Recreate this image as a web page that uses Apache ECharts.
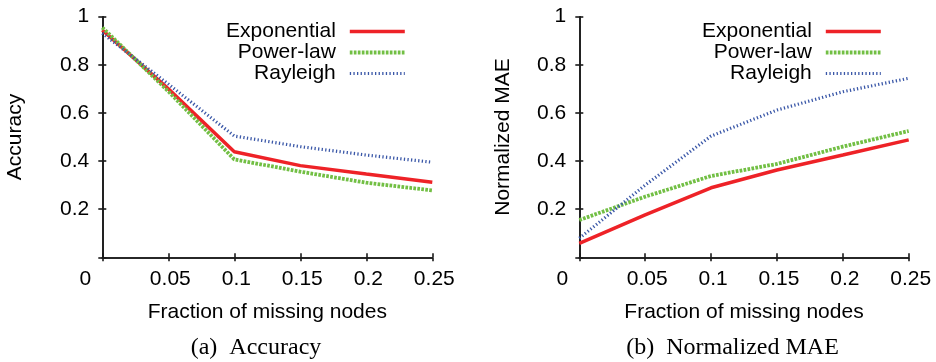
<!DOCTYPE html>
<html>
<head>
<meta charset="utf-8">
<script src="https://cdn.jsdelivr.net/npm/echarts@6/dist/echarts.min.js"></script>
<style>
html,body{margin:0;padding:0;background:#fff;}
#c{width:936px;height:362px;}
</style>
</head>
<body>
<div id="c"></div>
<script>
// ---- data ----
const xValues = [0, 0.05, 0.1, 0.15, 0.2, 0.25];
const seriesNames = ['Exponential', 'Power-law', 'Rayleigh'];
const accExp = [0.945, 0.70, 0.439, 0.381, 0.346, 0.312];
const accPow = [0.955, 0.69, 0.407, 0.356, 0.310, 0.278];
const accRay = [0.931, 0.72, 0.504, 0.460, 0.425, 0.395];
const maeExp = [0.058, 0.176, 0.289, 0.363, 0.425, 0.488];
const maePow = [0.155, 0.252, 0.338, 0.388, 0.460, 0.525];
const maeRay = [0.079, 0.300, 0.504, 0.612, 0.688, 0.744];
const xTicks = [0, 0.05, 0.1, 0.15, 0.2, 0.25];
const yTicks = [0, 0.2, 0.4, 0.6, 0.8, 1];
const yNames = ['Accuracy', 'Normalized MAE'];
const captions = ['(a)\u00a0\u00a0Accuracy', '(b)\u00a0\u00a0Normalized MAE'];
const xName = 'Fraction of missing nodes';

const SANS = '"Liberation Sans", Arial, Helvetica, sans-serif';
const SERIF = '"Liberation Serif", "Times New Roman", serif';
const FS = 21;
const colors = ['#ee2227', '#72bf44', '#3b58a8'];
const lineStyles = [
  {width: 3.5, type: 'solid'},
  {width: 3.8, type: [2.7, 1.3]},
  {width: 3.2, type: [1.3, 2.3]}
];

const grids = [
  {left: 102.3, right: 936 - 432.3, top: 16.7, bottom: 362 - 257.3},
  {left: 579.3, right: 936 - 908.7, top: 16.7, bottom: 362 - 257.3}
];

const axisLineStyle = {color: '#1a1a1a', width: 1.6};
function fmtX(v) {
  if (Math.abs(v) < 1e-9) return '{z|0}';
  return '{n|' + String(+v.toFixed(2)) + '}';
}
function fmtY(v) {
  if (Math.abs(v) < 1e-9) return '';
  return String(+v.toFixed(1));
}
const xMin = xTicks[0], xMax = xTicks[xTicks.length - 1], xInt = xTicks[1] - xTicks[0];
const yMin = yTicks[0], yMax = yTicks[yTicks.length - 1], yInt = yTicks[1] - yTicks[0];

const xAxes = [], yAxes = [];
[0, 1].forEach(g => {
  xAxes.push({
    type: 'value', gridIndex: g, position: 'bottom', min: xMin, max: xMax, interval: xInt,
    name: xName, nameLocation: 'middle', nameGap: 44,
    nameTextStyle: {fontFamily: SANS, fontSize: FS, color: '#000'},
    axisLine: {show: true, lineStyle: axisLineStyle},
    axisTick: {show: true, inside: true, length: 4, lineStyle: axisLineStyle},
    axisLabel: {
      show: true, margin: 11, fontFamily: SANS, fontSize: FS, color: '#000',
      formatter: fmtX,
      rich: {
        z: {fontFamily: SANS, fontSize: FS, color: '#000', padding: [0, 34, 0, 0]},
        n: {fontFamily: SANS, fontSize: FS, color: '#000', padding: [0, 0, 0, 4]}
      }
    },
    splitLine: {show: false}
  });
});
[0, 1].forEach(g => {
  xAxes.push({
    type: 'value', gridIndex: g, position: 'top', min: xMin, max: xMax, interval: xInt,
    axisLine: {show: true, lineStyle: axisLineStyle},
    axisTick: {show: true, inside: true, length: 4, lineStyle: axisLineStyle},
    axisLabel: {show: false}, splitLine: {show: false}
  });
});
[0, 1].forEach(g => {
  yAxes.push({
    type: 'value', gridIndex: g, position: 'left', min: yMin, max: yMax, interval: yInt,
    name: yNames[g], nameLocation: 'middle', nameGap: g === 0 ? 77 : 66,
    nameTextStyle: {fontFamily: SANS, fontSize: FS, color: '#000'},
    axisLine: {show: true, lineStyle: axisLineStyle},
    axisTick: {show: true, inside: true, length: 4, lineStyle: axisLineStyle},
    axisLabel: {show: true, margin: 13, fontFamily: SANS, fontSize: FS, color: '#000', formatter: fmtY},
    splitLine: {show: false}
  });
});
[0, 1].forEach(g => {
  yAxes.push({
    type: 'value', gridIndex: g, position: 'right', min: yMin, max: yMax, interval: yInt,
    axisLine: {show: true, lineStyle: axisLineStyle},
    axisTick: {show: true, inside: true, length: 4, lineStyle: axisLineStyle},
    axisLabel: {show: false}, splitLine: {show: false}
  });
});

const dataSets = [[accExp, accPow, accRay], [maeExp, maePow, maeRay]];
const series = [];
[0, 1].forEach(g => {
  dataSets[g].forEach((vals, i) => {
    series.push({
      type: 'line', name: seriesNames[i], xAxisIndex: g, yAxisIndex: g,
      data: xValues.map((x, k) => [x, vals[k]]),
      symbol: 'none', silent: true, animation: false,
      color: colors[i],
      lineStyle: Object.assign({color: colors[i], cap: 'butt'}, lineStyles[i]),
      z: 2 + i
    });
  });
});

const legendCommon = {
  data: seriesNames, orient: 'vertical', align: 'right', padding: 0,
  itemWidth: 55, itemHeight: 14, itemGap: 0, selectedMode: false,
  itemStyle: {opacity: 0},
  lineStyle: {width: 'inherit', type: 'inherit', color: 'inherit', cap: 'butt'},
  textStyle: {fontFamily: SANS, fontSize: FS, color: '#000', lineHeight: 20.8, padding: [0, 9, 0, 0]}
};

const option = {
  backgroundColor: '#fff',
  animation: false,
  grid: grids,
  xAxis: xAxes,
  yAxis: yAxes,
  series: series,
  legend: [
    Object.assign({}, legendCommon, {right: 936 - 406.7, top: 21}),
    Object.assign({}, legendCommon, {right: 936 - 882.7, top: 21})
  ],
  title: [
    {text: captions[0], left: 256, top: 336, textAlign: 'center', padding: 0,
     textStyle: {fontFamily: SERIF, fontSize: 24, fontWeight: 'normal', color: '#000'}},
    {text: captions[1], left: 732.5, top: 336, textAlign: 'center', padding: 0,
     textStyle: {fontFamily: SERIF, fontSize: 24, fontWeight: 'normal', color: '#000'}}
  ]
};

const chart = echarts.init(document.getElementById('c'), null, {renderer: 'canvas'});
chart.setOption(option);
</script>
</body>
</html>
